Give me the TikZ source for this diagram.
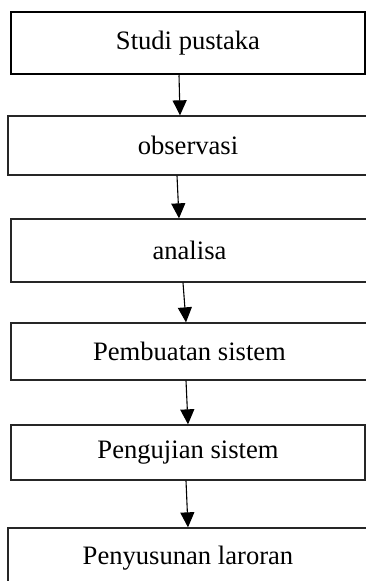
\documentclass[tikz,border=0pt]{standalone}
\usepackage{fontspec}
\setmainfont{Liberation Serif}
\usetikzlibrary{arrows.meta}
\begin{document}
\begin{tikzpicture}[x=1pt,y=-1pt,
  stepbox/.style={draw=black!85, line width=1.3pt, rectangle, inner sep=0pt,
    font=\fontsize{26.6}{30}\selectfont, text=black},
  arr/.style={line width=1.1pt, -{Triangle[length=15pt,width=14pt]}}]
\useasboundingbox (0,0) rectangle (366,581);
\node[stepbox, line width=2.5pt, draw=black, minimum width=354pt, minimum height=62pt] (b1) at (188,43) {Studi pustaka};
\node[stepbox, minimum width=360pt, minimum height=59pt] (b2) at (188,145.5) {observasi};
\node[stepbox, minimum width=357pt, minimum height=63pt] (b3) at (189.5,250.5) {analisa};
\node[stepbox, minimum width=357pt, minimum height=57pt] (b4) at (189.5,351.5) {Pembuatan sistem};
\node[stepbox, minimum width=354pt, minimum height=55pt] (b5) at (188,452.5) {Pengujian sistem};
\node[stepbox, minimum width=360pt, minimum height=60pt] (b6) at (188,558) {Penyusunan laroran};
\draw[arr] ([xshift=-9pt]b1.south) -- ([xshift=-8pt]b2.north);
\draw[arr] ([xshift=-11pt]b2.south) -- ([xshift=-10.5pt]b3.north);
\draw[arr] ([xshift=-6.5pt]b3.south) -- ([xshift=-3.5pt]b4.north);
\draw[arr] ([xshift=-3.5pt]b4.south) -- ([xshift=0pt]b5.north);
\draw[arr] ([xshift=-2pt]b5.south) -- ([xshift=0pt]b6.north);
\end{tikzpicture}
\end{document}
